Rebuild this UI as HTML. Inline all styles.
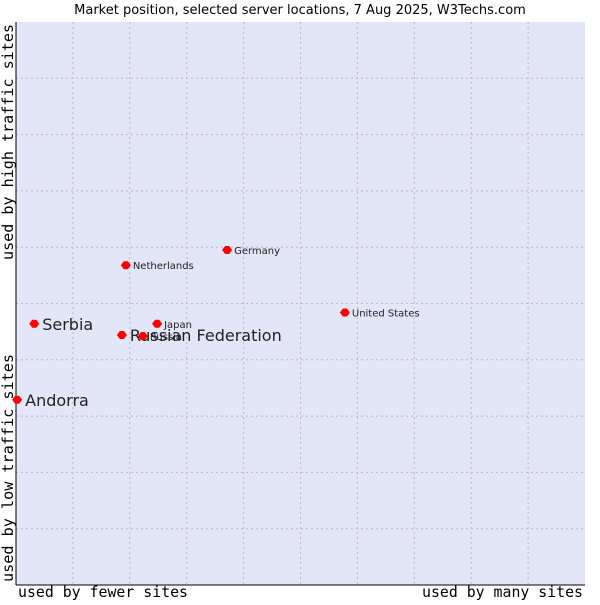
<!DOCTYPE html>
<html><head><meta charset="utf-8"><style>
body{margin:0;background:#fff;width:600px;height:600px;overflow:hidden}
svg text{font-family:"DejaVu Sans","Liberation Sans",sans-serif}
.m{font-family:"DejaVu Sans Mono","Liberation Mono",monospace}
</style></head><body>
<svg id="c" width="600" height="600">
<text x="300" y="14" text-anchor="middle" font-size="13" fill="#000">Market position, selected server locations, 7 Aug 2025, W3Techs.com</text>
<rect x="16" y="22" width="569" height="563" fill="#e3e5f8"/>
<g id="grid"></g>
<line x1="16" y1="22" x2="16" y2="585" stroke="#000"/>
<line x1="16" y1="585" x2="585" y2="585" stroke="#000"/>
<text class="m" x="18" y="597" font-size="15" textLength="170" lengthAdjust="spacingAndGlyphs">used by fewer sites</text>
<text class="m" x="422" y="597" font-size="15" textLength="161" lengthAdjust="spacingAndGlyphs">used by many sites</text>
<text class="m" transform="translate(13,582) rotate(-90)" font-size="15" textLength="228" lengthAdjust="spacingAndGlyphs">used by low traffic sites</text>
<text class="m" transform="translate(13,260) rotate(-90)" font-size="15" textLength="236" lengthAdjust="spacingAndGlyphs">used by high traffic sites</text>
<g id="pts"></g>
</svg>
<script>
const names=["Andorra","Serbia","Russian Federation","Russia","Japan","Netherlands","Germany","United States"];
const xVals=[0.2,3.2,18.6,22.3,24.8,19.3,37.1,57.8];
const yVals=[32.9,46.4,44.4,44.2,46.4,56.8,59.5,48.4];
const bigLabel=[true,true,true,false,false,false,false,false];
const L=16,T=22,W=569,H=563;
const sx=v=>L+v/100*W, sy=v=>T+H-v/100*H;
const NS="http://www.w3.org/2000/svg";
const g=document.getElementById('grid');
for(let i=1;i<10;i++){
 const x=L+i*W/10, y=T+i*H/10;
 let a=document.createElementNS(NS,'line');
 a.setAttribute('x1',x);a.setAttribute('x2',x);a.setAttribute('y1',T);a.setAttribute('y2',T+H);
 a.setAttribute('stroke','#bbb');a.setAttribute('stroke-dasharray','2,3');
 
 
 g.appendChild(a);
 let b=document.createElementNS(NS,'line');
 b.setAttribute('y1',y);b.setAttribute('y2',y);b.setAttribute('x1',L);b.setAttribute('x2',L+W);
 b.setAttribute('stroke','#bbb');b.setAttribute('stroke-dasharray','2,3');
 
 
 g.appendChild(b);
}
const p=document.getElementById('pts');
names.forEach((n,i)=>{
 const x=sx(xVals[i]),y=sy(yVals[i]);
 const d=document.createElementNS(NS,'path');
 d.setAttribute('d',`M${x-5},${y}L${x-2},${y-4}L${x+2},${y-4}L${x+5},${y}L${x+2},${y+4}L${x-2},${y+4}Z`);
 d.setAttribute('fill','#f00');
 
 
 p.appendChild(d);
 const t=document.createElementNS(NS,'text');
 t.setAttribute('x',x+(bigLabel[i]?8:7));
 t.setAttribute('y',y+(bigLabel[i]?6:4));
 t.setAttribute('font-size',bigLabel[i]?16:10);
 t.setAttribute('fill','#222');
 t.textContent=n;
 
 
 p.appendChild(t);
});
</script>
</body></html>
